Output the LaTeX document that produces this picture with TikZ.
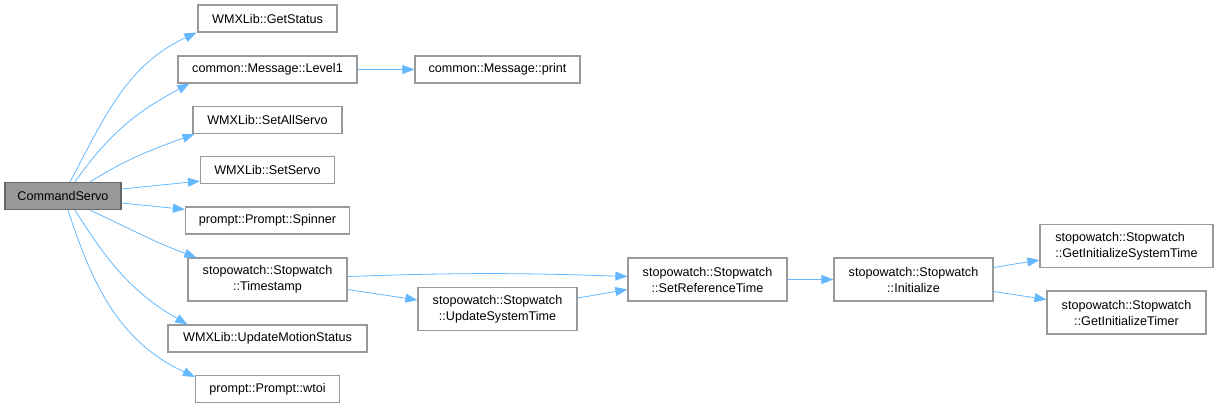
\documentclass[tikz,border=0pt]{standalone}
\usepackage{fontspec}
\setmainfont{Liberation Sans}
\usepackage{tikz}
\usetikzlibrary{arrows.meta}
\definecolor{edgeblue}{HTML}{63B8FF}
\definecolor{boxline}{HTML}{999999}
\definecolor{rootfill}{HTML}{999999}
\definecolor{rootline}{HTML}{666666}

\begin{document}
\begin{tikzpicture}[x=1pt, y=-1pt,
  fn/.style   = {draw=boxline, fill=white, line width=1.2pt, inner sep=0pt,
                 minimum height=27pt, align=center,
                 font=\fontsize{12.6}{16}\selectfont},
  fn2/.style  = {fn, minimum height=43pt},
  root/.style = {fn, draw=rootline, fill=rootfill},
  e/.style    = {draw=edgeblue, line width=0.8pt,
                 -{Triangle[length=12pt, width=9pt, fill=edgeblue]}}]
\useasboundingbox (0,0) rectangle (1219,408);

% --- functions --------------------------------------------------------
\node[root, minimum width=116pt] (cs)  at (63,196)     {CommandServo};
\node[fn,   minimum width=139pt] (gs)  at (267.5,18.5) {WMXLib::GetStatus};
\node[fn,   minimum width=179pt] (l1)  at (267.5,69.5) {common::Message::Level1};
\node[fn,   minimum width=165pt] (pr)  at (497.5,69.5) {common::Message::print};
\node[fn,   minimum width=149pt] (sa)  at (267.5,120)  {WMXLib::SetAllServo};
\node[fn,   minimum width=134pt] (ss)  at (267.5,170)  {WMXLib::SetServo};
\node[fn,   minimum width=164pt] (sp)  at (267.5,220.5) {prompt::Prompt::Spinner};
\node[fn2,  minimum width=159pt] (ts)  at (267.5,279.5)
      {stopowatch::Stopwatch\\::Timestamp};
\node[fn,   minimum width=199pt] (um)  at (267.5,338.5) {WMXLib::UpdateMotionStatus};
\node[fn,   minimum width=144pt] (wt)  at (267.5,389)  {prompt::Prompt::wtoi};
\node[fn2,  minimum width=159pt] (ust) at (497.5,309)
      {stopowatch::Stopwatch\\::UpdateSystemTime};
\node[fn2,  minimum width=159pt] (srt) at (707.5,279.5)
      {stopowatch::Stopwatch\\::SetReferenceTime};
\node[fn2,  minimum width=159pt] (ini) at (913.5,279.5)
      {stopowatch::Stopwatch\\::Initialize};
\node[fn2,  minimum width=173pt, align=left] (gis) at (1126.5,246)
      {stopowatch::Stopwatch\\::GetInitializeSystemTime};
\node[fn2,  minimum width=159pt] (git) at (1126.5,312.5)
      {stopowatch::Stopwatch\\::GetInitializeTimer};

% --- calls from CommandServo ------------------------------------------
\draw[e] ([xshift=7pt]cs.north)  to[out=62, in=205] ([xshift=-1pt]gs.south west);
\draw[e] ([xshift=12pt]cs.north) to[out=55, in=208] ([xshift=12pt]l1.south west);
\draw[e] ([xshift=27pt]cs.north) to[out=32, in=200] ([xshift=2pt]sa.south west);
\draw[e] ([yshift=7pt]cs.east)   -- ([yshift=3pt]ss.south west);
\draw[e] ([yshift=-7pt]cs.east)  -- ([yshift=-3pt]sp.north west);
\draw[e] ([xshift=27pt]cs.south) to[out=-25, in=160] ([xshift=9pt]ts.north west);
\draw[e] ([xshift=12pt]cs.south) to[out=-58, in=150] ([xshift=20pt]um.north west);
\draw[e] ([xshift=5pt]cs.south)  to[out=-72, in=155] ([yshift=-2pt]wt.north west);

% --- further calls ----------------------------------------------------
\draw[e] (l1) -- (pr);
\draw[e] ([yshift=3pt]ts.east)   to[out=2, in=178] ([yshift=3pt]srt.west);
\draw[e] ([yshift=-10pt]ts.east) -- ([yshift=9pt]ust.west);
\draw[e] ([yshift=11pt]ust.east) -- ([yshift=-10pt]srt.west);
\draw[e] (srt) -- (ini);
\draw[e] ([yshift=12pt]ini.east) -- ([yshift=-14pt]gis.west);
\draw[e] ([yshift=-12pt]ini.east) -- ([yshift=13pt]git.west);
\end{tikzpicture}
\end{document}
